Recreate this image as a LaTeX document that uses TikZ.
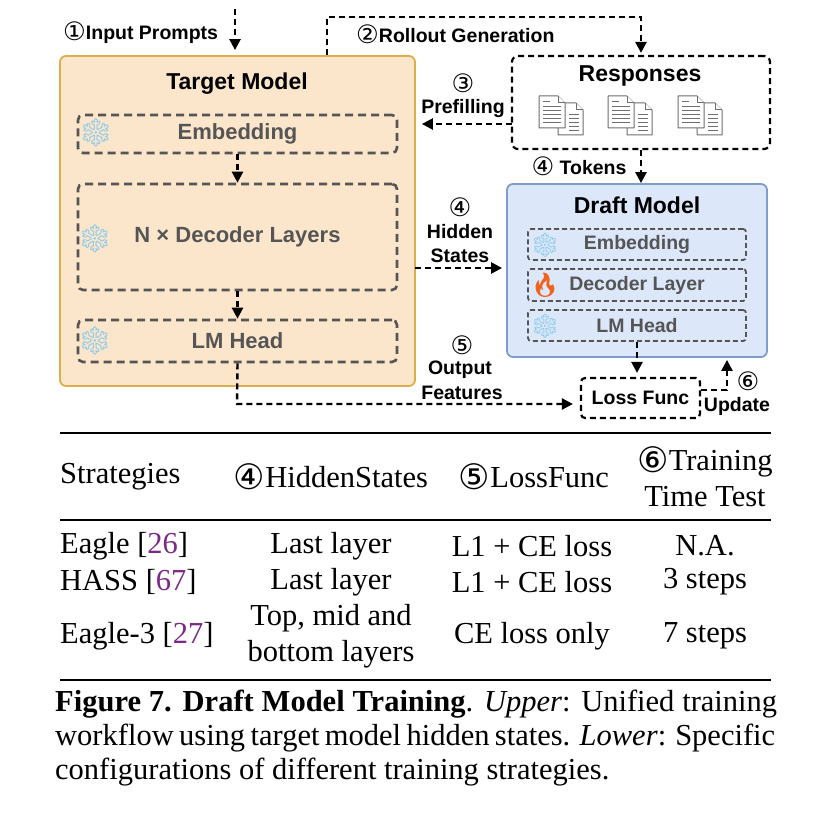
\documentclass[tikz,border=0pt]{standalone}
\usepackage{fontspec}
\setmainfont{Liberation Serif}
\setsansfont{Liberation Sans}
\newfontfamily\djv{DejaVu Sans}
\newfontfamily\emo{Noto Emoji}
\usetikzlibrary{arrows.meta}
\definecolor{tmfill}{HTML}{FBE6CB}
\definecolor{tmborder}{HTML}{DDAE4E}
\definecolor{dmfill}{HTML}{DCE8FA}
\definecolor{dmborder}{HTML}{7E9DC9}
\definecolor{gry}{HTML}{555555}
\definecolor{snow}{HTML}{8FCBEA}
\definecolor{fire}{HTML}{F0631E}
\definecolor{cite}{HTML}{7A2A86}
\newcommand{\cnum}[2][1.3]{{\djv\mdseries\raisebox{-0.06em}{\scalebox{#1}{#2}}}}
\newcommand{\flake}{{\emo\color{snow}❄}}
\newcommand{\flame}{{\emo\color{fire}🔥}}
\tikzset{
  tmodel/.style={draw=tmborder, fill=tmfill, line width=1.8pt, rounded corners=6pt},
  dmodel/.style={draw=dmborder, fill=dmfill, line width=1.8pt, rounded corners=6pt},
  innerT/.style={draw=gry, line width=2.6pt, dash pattern=on 8pt off 5pt, rounded corners=5pt,
     text=gry, font=\sffamily\bfseries\fontsize{22}{26}\selectfont},
  innerD/.style={draw=gry, line width=1.8pt, dash pattern=on 5pt off 3pt, rounded corners=3pt,
     text=gry, font=\sffamily\bfseries\fontsize{19.5}{23}\selectfont},
  blackbox/.style={draw=black, line width=2.2pt, dash pattern=on 6pt off 4pt, rounded corners=6pt,
     font=\sffamily\bfseries\fontsize{19.5}{23}\selectfont},
  ttl/.style={font=\sffamily\bfseries\fontsize{23}{27}\selectfont},
  lbl/.style={font=\sffamily\bfseries\fontsize{19.5}{22}\selectfont, inner sep=0pt},
  conn/.style={line width=2.4pt, dash pattern=on 6pt off 4pt, -{Triangle[length=11pt,width=11pt]}},
  iconT/.style={font=\fontsize{28}{28}\selectfont, inner sep=0pt},
  iconD/.style={font=\fontsize{24}{24}\selectfont, inner sep=0pt},
  tabtxt/.style={font=\fontsize{30.5}{36}\selectfont, inner sep=0pt, align=center},
  captxt/.style={font=\fontsize{30.5}{36}\selectfont, inner sep=0pt, anchor=west},
  docline/.style={draw=gry!85, line width=1.0pt, fill=white, line join=round},
  docs/.pic={
    \draw[docline] (19,7) -- (37,7) -- (44,14) -- (44,39) -- (19,39) -- cycle;
    \draw[docline] (37,7) -- (37,14) -- (44,14);
    \foreach \yy in {19,23,27,31,35} \draw[docline] (30,\yy) -- (40,\yy);
    \draw[docline] (0,0) -- (19,0) -- (26,7) -- (26,32) -- (0,32) -- cycle;
    \draw[docline] (19,0) -- (19,7) -- (26,7);
    \draw[docline] (4,6) -- (11,6);
    \foreach \yy in {11,15,19,23,27} \draw[docline] (4,\yy) -- (22,\yy);
  }
}
\begin{document}
\begin{tikzpicture}[x=1pt,y=-1pt]
\useasboundingbox (0,0) rectangle (831,818);
\fill[white] (0,0) rectangle (831,818);

% Target model
\node[tmodel, minimum width=355pt, minimum height=330pt] (tm) at (237.5,221) {};
\node[ttl] (tmt) at (237,84) {Target Model};
\node[innerT, minimum width=319pt, minimum height=38pt] (embT) at (237.5,134) {Embedding};
\node[innerT, minimum width=319pt, minimum height=106pt] (decT) at (237.5,237) {N × Decoder Layers};
\node[innerT, minimum width=319pt, minimum height=42pt] (lmT) at (237.5,341) {LM Head};
\node[iconT] (s1) at (96,133) {\flake};
\node[iconT] (s2) at (95,239) {\flake};
\node[iconT] (s3) at (95,341) {\flake};

% Responses
\node[blackbox, minimum width=258pt, minimum height=93pt] (resp) at (641,102.5) {};
\node[ttl] (respt) at (640,76) {Responses};
\pic at (539,96) {docs};
\pic at (608,96) {docs};
\pic at (678,96) {docs};

% Draft model
\node[dmodel, minimum width=260pt, minimum height=173pt] (dm) at (637,270.5) {};
\node[ttl] (dmt) at (637,205) {Draft Model};
\node[innerD, minimum width=218pt, minimum height=31pt] (embD) at (637,244.5) {Embedding};
\node[innerD, minimum width=218pt, minimum height=32pt] (decD) at (637,285) {Decoder Layer};
\node[innerD, minimum width=218pt, minimum height=31pt] (lmD) at (637,325.5) {LM Head};
\node[iconD] (s4) at (545,245) {\flake};
\node[iconD] (f1) at (545,285) {\flame};
\node[iconD] (s5) at (545,326) {\flake};

% Loss
\node[blackbox, minimum width=119pt, minimum height=40pt, rounded corners=4pt] (loss) at (640.5,398) {Loss Func};

% connectors
\coordinate (ip) at (235,9);
\draw[conn, shorten >=5pt] (ip) -- (ip |- tm.north);
\coordinate (rg) at (327,17);
\draw[conn, shorten >=2pt] (rg |- tm.north) -- (rg) -| (resp.north);
\coordinate (pf) at (512,124);
\draw[conn, shorten >=6pt] (pf) -- (pf -| tm.east);
\draw[conn] (resp.south) -- (resp.south |- dm.north);
\draw[conn] (embT.south) -- (decT.north);
\draw[conn] (decT.south) -- (lmT.north);
\coordinate (hs) at (415,268);
\draw[conn, shorten >=4pt] (hs) -- (hs -| dm.west);
\coordinate (of) at (237,404);
\draw[conn, shorten >=7pt] (lmT.south) -- (of) -- (of -| loss.west);
\draw[conn, shorten >=4pt] (lmD.south) -- (lmD.south |- loss.north);
\coordinate (up) at (727,390);
\draw[conn, shorten >=2pt] (up -| loss.east) -- (up) -- (up |- dm.south);

% labels
\node[lbl, anchor=west] (l1) at (63,33) {\cnum{①}Input Prompts};
\node[lbl, anchor=west] (l2) at (356,34) {\cnum{②}Rollout Generation};
\node[lbl] (l3a) at (463,83) {\cnum{③}};
\node[lbl] (l3b) at (463,109) {Prefilling};
\node[lbl] (l4t) at (579,166) {\cnum{④} Tokens};
\node[lbl] (l4a) at (460,207) {\cnum{④}};
\node[lbl] (l4b) at (460,232) {Hidden};
\node[lbl] (l4c) at (460,256) {States};
\node[lbl] (l5a) at (462,345) {\cnum{⑤}};
\node[lbl] (l5b) at (460,370) {Output};
\node[lbl] (l5c) at (462,393) {Features};
\node[lbl] (l6a) at (748,381) {\cnum{⑥}};
\node[lbl] (l6b) at (737,406) {Update};

% table
\coordinate (r1a) at (60,433); \coordinate (r1b) at (771,433);
\coordinate (r2a) at (60,520); \coordinate (r2b) at (771,520);
\coordinate (r3a) at (60,680); \coordinate (r3b) at (771,680);
\draw[line width=2.4pt] (r1a) -- (r1b);
\draw[line width=1.4pt] (r2a) -- (r2b);
\draw[line width=2.6pt] (r3a) -- (r3b);

\node[tabtxt, anchor=west] (h1) at (60,477) {Strategies};
\node[tabtxt] (h2) at (331,477) {\cnum[1.15]{④}HiddenStates};
\node[tabtxt] (h3) at (534,477) {\cnum[1.15]{⑤}LossFunc};
\node[tabtxt] (h4) at (705,477) {\cnum[1.15]{⑥}Training\\Time Test};

\node[tabtxt, anchor=west] (a1) at (60,546) {Eagle [\textcolor{cite}{26}]};
\node[tabtxt] (a2) at (331,546) {Last layer};
\node[tabtxt] (a3) at (532,546) {L1 + CE loss};
\node[tabtxt] (a4) at (705,546) {N.A.};

\node[tabtxt, anchor=west] (b1) at (60,582) {HASS [\textcolor{cite}{67}]};
\node[tabtxt] (b2) at (331,582) {Last layer};
\node[tabtxt] (b3) at (532,582) {L1 + CE loss};
\node[tabtxt] (b4) at (705,582) {3 steps};

\node[tabtxt, anchor=west] (c1) at (60,636) {Eagle-3 [\textcolor{cite}{27}]};
\node[tabtxt] (c2) at (331,636) {Top, mid and\\bottom layers};
\node[tabtxt] (c3) at (532,636) {CE loss only};
\node[tabtxt] (c4) at (705,636) {7 steps};

% caption
\node[captxt] (cp1) at (55,704) {\makebox[722pt][s]{\textbf{Figure 7. Draft Model Training}. \textit{Upper}: Unified training}};
\node[captxt] (cp2) at (55,738) {\makebox[720pt][s]{workflow using target model hidden states. \textit{Lower}: Specific}};
\node[captxt] (cp3) at (55,772) {configurations of different training strategies.};
\end{tikzpicture}
\end{document}
